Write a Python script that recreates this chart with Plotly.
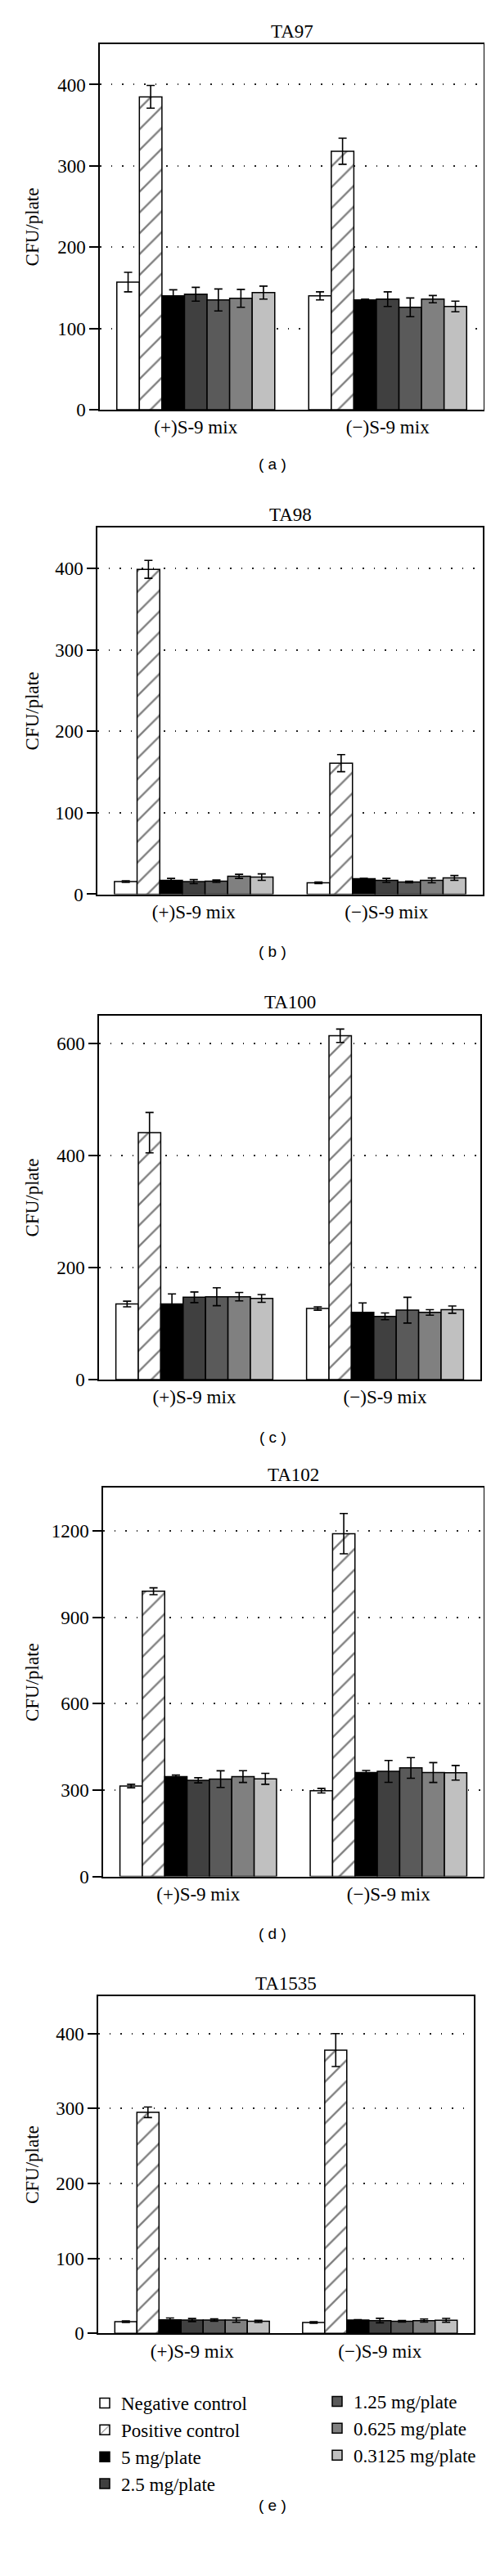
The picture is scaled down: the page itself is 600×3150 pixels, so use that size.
import plotly.graph_objects as go

# ---------------- data ----------------
GROUPS = ["(+)S-9 mix", "(−)S-9 mix"]
SERIES = ["Negative control", "Positive control", "5 mg/plate", "2.5 mg/plate",
          "1.25 mg/plate", "0.625 mg/plate", "0.3125 mg/plate"]

STRAINS = ["TA97", "TA98", "TA100", "TA102", "TA1535"]
PANEL_LABELS = ["( a )", "( b )", "( c )", "( d )", "( e )"]

# per series: [(+)S-9, (-)S-9]
TA97_MEAN = [[157, 140], [385, 318], [140, 135], [142, 136], [135, 126], [137, 136], [144, 127]]
TA97_ERR = [[12, 5], [14, 16], [7.5, 1], [8.5, 9], [13.5, 11.5], [11, 4.5], [8, 6.5]]

TA98_MEAN = [[15.5, 14], [399, 161], [17, 19], [15.5, 17], [16, 15], [22, 17], [21, 20]]
TA98_ERR = [[1, 1], [11, 10.5], [2.5, 0.5], [2.5, 2.5], [1.5, 1], [2.5, 3], [4, 3]]

TA100_MEAN = [[135, 127], [441, 614], [135, 120], [147, 113], [148, 124], [148, 120], [145, 125]]
TA100_ERR = [[5, 3], [36, 12], [18, 17], [9.5, 6], [16, 23], [7.5, 5], [7, 6.5]]

TA102_MEAN = [[314, 298], [991, 1191], [347, 361], [334, 365], [338, 377], [347, 361], [339, 360]]
TA102_ERR = [[6, 8], [12, 70], [5, 7], [9, 38], [29, 36], [20.5, 34.5], [19, 25.5]]

TA1535_MEAN = [[15.6, 14.4], [295, 378], [18, 17.7], [17.7, 17], [17.7, 16], [17.7, 17], [16, 17.3]]
TA1535_ERR = [[1, 1], [7, 22], [2.5, 0.5], [2, 3], [1.5, 1], [3, 2], [1.5, 2.5]]

Y_MAX = [450, 450, 650, 1350, 450]
Y_DTICK = [100, 100, 200, 300, 100]

MEANS = [TA97_MEAN, TA98_MEAN, TA100_MEAN, TA102_MEAN, TA1535_MEAN]
ERRS = [TA97_ERR, TA98_ERR, TA100_ERR, TA102_ERR, TA1535_ERR]

# ---------------- style / layout ----------------
W, H = 600, 3150
COLORS = ["#ffffff", "#ffffff", "#000000", "#404040", "#5a5a5a", "#808080", "#c0c0c0"]
# panel boxes in pixels: (left, right, top, bottom)
BOXES = [(114, 583, 46, 495), (111, 582, 640, 1090), (113, 579, 1239, 1686),
         (118, 583, 1819, 2296), (112, 571, 2443, 2857)]
TITLE_Y = [31, 624, 1223, 1803, 2428]
LABEL_Y = [562, 1160, 1757, 2366, 3068]

SERIF = "Liberation Serif"
SANS = "Liberation Sans"


def fx(px):
    return px / W


def fy(px):
    return 1 - px / H


fig = go.Figure()

for p in range(5):
    xa = "x" if p == 0 else f"x{p + 1}"
    ya = "y" if p == 0 else f"y{p + 1}"
    for s, name in enumerate(SERIES):
        marker = dict(color=COLORS[s], line=dict(color="black", width=1.5))
        if s == 1:
            marker["pattern"] = dict(shape="/", fgcolor="black", bgcolor="white",
                                     size=18, solidity=0.13)
        legend = "legend" if s < 4 else "legend2"
        fig.add_trace(go.Bar(
            x=GROUPS, y=MEANS[p][s], name=name, xaxis=xa, yaxis=ya,
            marker=marker,
            error_y=dict(type="data", array=ERRS[p][s], color="black",
                         thickness=1.6, width=5),
            showlegend=(p == 4), legend=legend,
        ))

    l, r, t, b = BOXES[p]
    xkey = "xaxis" if p == 0 else f"xaxis{p + 1}"
    ykey = "yaxis" if p == 0 else f"yaxis{p + 1}"
    fig.layout[xkey] = dict(
        domain=[fx(l), fx(r)], anchor=ya, range=[-0.5, 1.5],
        showline=True, mirror=True, linecolor="black", linewidth=1.5,
        ticks="", showgrid=False, zeroline=False,
        tickfont=dict(family=SERIF, size=23, color="black"),
    )
    fig.layout[ykey] = dict(
        domain=[fy(b), fy(t)], anchor=xa, range=[0, Y_MAX[p]], dtick=Y_DTICK[p],
        showline=True, mirror=True, linecolor="black", linewidth=1.5,
        ticks="outside", ticklen=11, tickwidth=1.5, tickcolor="black",
        showgrid=True, gridcolor="#222222", gridwidth=1.5, griddash="1.5px,12px",
        zeroline=False,
        tickfont=dict(family=SERIF, size=23, color="black"),
    )
    fig.add_annotation(text=STRAINS[p], xref="paper", yref="paper",
                       x=fx((l + r) / 2), y=fy(TITLE_Y[p]), showarrow=False,
                       xanchor="center", yanchor="middle",
                       font=dict(family=SERIF, size=23, color="black"))
    fig.add_annotation(text="CFU/plate", xref="paper", yref="paper",
                       x=fx(31), y=fy((t + b) / 2), showarrow=False, textangle=-90,
                       xanchor="center", yanchor="middle",
                       font=dict(family=SERIF, size=23, color="black"))
    fig.add_annotation(text=PANEL_LABELS[p], xref="paper", yref="paper",
                       x=fx(325), y=fy(LABEL_Y[p]), showarrow=False,
                       xanchor="center", yanchor="middle",
                       font=dict(family=SANS, size=19, color="black"))

fig.update_layout(
    width=W, height=H, margin=dict(l=0, r=0, t=0, b=0),
    paper_bgcolor="white", plot_bgcolor="white",
    barmode="group", bargap=0.177, bargroupgap=0,
    legend=dict(x=fx(100), y=fy(2921), xanchor="left", yanchor="top",
                orientation="v", traceorder="normal", bgcolor="rgba(0,0,0,0)",
                font=dict(family=SERIF, size=23, color="black"), itemwidth=30,
                tracegroupgap=0),
    legend2=dict(x=fx(384), y=fy(2919), xanchor="left", yanchor="top",
                 orientation="v", traceorder="normal", bgcolor="rgba(0,0,0,0)",
                 font=dict(family=SERIF, size=23, color="black"), itemwidth=30,
                 tracegroupgap=0),
)

fig.write_html("out.html")
